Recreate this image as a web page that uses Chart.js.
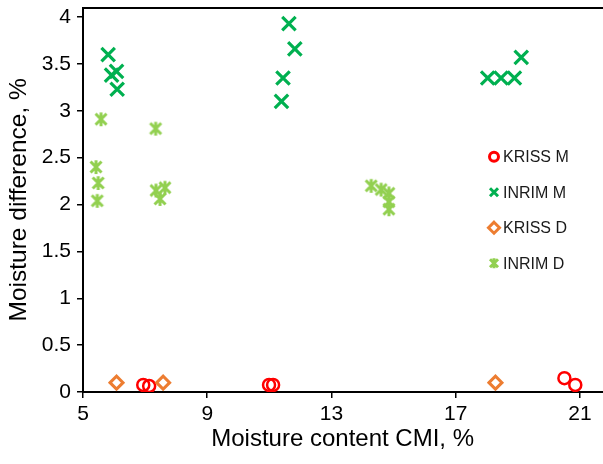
<!DOCTYPE html>
<html><head><meta charset="utf-8">
<script src="https://cdn.jsdelivr.net/npm/chart.js@4"></script>
<style>html,body{margin:0;padding:0;background:#fff;overflow:hidden;width:603px;height:464px;position:relative}
#c{position:absolute;left:0;top:0}</style>
</head><body>
<canvas id="c" width="615" height="464"></canvas>
<script>
const seriesNames = ['KRISS M', 'INRIM M', 'KRISS D', 'INRIM D'];
const krissM_x = [6.94, 7.13, 10.99, 11.12, 20.50, 20.85];
const krissM_y = [0.075, 0.064, 0.075, 0.075, 0.147, 0.075];
const inrimM_x = [5.81, 6.08, 5.92, 6.10, 11.63, 11.82, 11.44, 11.39, 19.11, 18.03, 18.46, 18.89];
const inrimM_y = [3.60, 3.42, 3.38, 3.23, 3.93, 3.66, 3.35, 3.10, 3.57, 3.35, 3.35, 3.35];
const krissD_x = [6.08, 7.58, 18.28];
const krissD_y = [0.10, 0.10, 0.10];
const inrimD_x = [5.58, 7.34, 5.42, 5.49, 5.46, 7.35, 7.64, 7.48, 14.28, 14.60, 14.85, 14.85, 14.85];
const inrimD_y = [2.91, 2.81, 2.40, 2.23, 2.04, 2.15, 2.18, 2.06, 2.20, 2.16, 2.12, 2.03, 1.95];
const xTicks = [5, 9, 13, 17, 21];
const yTicks = [0, 0.5, 1, 1.5, 2, 2.5, 3, 3.5, 4];

const FONT = '"Liberation Sans", Arial, sans-serif';
Chart.defaults.font.family = FONT;

function pts(xs, ys) { return xs.map((x, i) => ({x: x, y: ys[i]})); }

function drawMarker(ctx, kind, x, y, color, r, lw) {
  ctx.save();
  ctx.strokeStyle = color; ctx.lineWidth = lw; ctx.lineCap = 'butt';
  ctx.beginPath();
  if (kind === 'circle') { ctx.arc(x, y, r, 0, Math.PI * 2); }
  else if (kind === 'cross') {
    ctx.moveTo(x - r, y - r); ctx.lineTo(x + r, y + r);
    ctx.moveTo(x + r, y - r); ctx.lineTo(x - r, y + r);
  } else if (kind === 'diamond') {
    ctx.moveTo(x, y - r); ctx.lineTo(x + r, y); ctx.lineTo(x, y + r); ctx.lineTo(x - r, y); ctx.closePath();
  } else if (kind === 'star') {
    ctx.moveTo(x - r, y - r); ctx.lineTo(x + r, y + r);
    ctx.moveTo(x + r, y - r); ctx.lineTo(x - r, y + r);
    ctx.moveTo(x, y - r * 1.25); ctx.lineTo(x, y + r * 1.25);
  }
  ctx.stroke();
  ctx.restore();
}

const starImg = document.createElement('canvas');
starImg.width = 18; starImg.height = 18;
drawMarker(starImg.getContext('2d'), 'star', 9, 9, '#92D050', 5.5, 3);

const legendPlugin = {
  id: 'insideLegend',
  afterDraw(chart) {
    const ctx = chart.ctx, a = chart.chartArea;
    const x0 = a.left + 411, y0 = a.top + 149, dy = 35.5;
    ctx.save();
    ctx.font = '16px ' + FONT;
    ctx.textBaseline = 'middle'; ctx.textAlign = 'left';
    chart.data.datasets.forEach((ds, i) => {
      const y = y0 + i * dy;
      const m = ds.legendMarker;
      drawMarker(ctx, m.kind, x0, y, ds.borderColor, m.r, 3);
      ctx.fillStyle = '#1a1a1a';
      ctx.fillText(ds.label, x0 + 9, y + 1);
    });
    ctx.restore();
  }
};

function makeConfig() {
  return {
    type: 'scatter',
    data: {
      datasets: [
        { label: seriesNames[0], data: pts(krissM_x, krissM_y), pointStyle: 'circle', pointRadius: 6,
          borderColor: '#FF0000', backgroundColor: 'rgba(0,0,0,0)', borderWidth: 2.5, order: 4,
          legendMarker: {kind: 'circle', r: 4.5} },
        { label: seriesNames[1], data: pts(inrimM_x, inrimM_y), pointStyle: 'crossRot', pointRadius: 9.5,
          borderColor: '#00B050', backgroundColor: '#00B050', borderWidth: 3.2, order: 3,
          legendMarker: {kind: 'cross', r: 4} },
        { label: seriesNames[2], data: pts(krissD_x, krissD_y), pointStyle: 'rectRot', pointRadius: 6.5,
          borderColor: '#ED7D31', backgroundColor: '#ffffff', borderWidth: 3, order: 2,
          legendMarker: {kind: 'diamond', r: 5.5} },
        { label: seriesNames[3], data: pts(inrimD_x, inrimD_y), pointStyle: starImg, pointRadius: 7,
          borderColor: '#92D050', backgroundColor: '#92D050', borderWidth: 3, order: 1,
          legendMarker: {kind: 'star', r: 4} }
      ]
    },
    options: {
      responsive: false,
      animation: false,
      devicePixelRatio: 1,
      layout: { padding: { top: 2, left: 0, right: 0, bottom: 0 } },
      plugins: { legend: { display: false }, tooltip: { enabled: false } },
      scales: {
        x: {
          type: 'linear', position: 'bottom', min: 5, max: 21.72,
          afterBuildTicks: s => { s.ticks = xTicks.map(v => ({value: v})); },
          afterFit: s => { s.height = 72; s.paddingLeft = 0; s.paddingRight = 0; },
          grid: { display: true, drawOnChartArea: false, drawTicks: true, tickLength: 6, color: '#000', lineWidth: 1.5 },
          border: { display: true, color: '#000', width: 2 },
          ticks: { font: { size: 21 }, color: '#000', padding: 4, maxRotation: 0, callback: v => String(v) },
          title: { display: true, text: 'Moisture content CMI, %', font: { size: 24 }, color: '#000', padding: { top: 0, bottom: 10 } }
        },
        xTop: {
          type: 'linear', position: 'top', min: 5, max: 21.72,
          grid: { display: false }, ticks: { display: false },
          border: { display: true, color: '#000', width: 2 },
          afterFit: s => { s.height = 0; s.paddingLeft = 0; s.paddingRight = 0; }
        },
        y: {
          type: 'linear', position: 'left', min: 0, max: 4.1,
          afterBuildTicks: s => { s.ticks = yTicks.map(v => ({value: v})); },
          afterFit: s => { s.width = 83; s.paddingTop = 0; s.paddingBottom = 0; },
          grid: { display: true, drawOnChartArea: false, drawTicks: true, tickLength: 6, color: '#000', lineWidth: 1.5 },
          border: { display: true, color: '#000', width: 2 },
          ticks: { font: { size: 21 }, color: '#000', padding: 6, callback: v => String(v) },
          title: { display: true, text: 'Moisture difference, %', font: { size: 24.5 }, color: '#000', padding: { top: 5, bottom: 0 } }
        }
      }
    },
    plugins: [legendPlugin]
  };
}

const cv = document.getElementById('c');
// probe layout once, then size/offset the canvas so the plot area spans page y 8..392
let probe = new Chart(cv, makeConfig());
const t0 = probe.chartArea.top;
probe.destroy();
const off = Math.round(8 - t0);
cv.width = 615;
cv.height = 464 - off;
cv.style.top = off + 'px';
new Chart(cv, makeConfig());
</script>
</body></html>
